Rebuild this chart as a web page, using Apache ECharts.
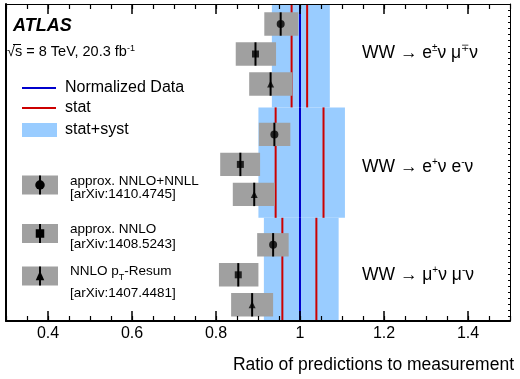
<!DOCTYPE html>
<html><head><meta charset="utf-8">
<script src="https://cdn.jsdelivr.net/npm/echarts@6/dist/echarts.min.js"></script>
<style>html,body{margin:0;padding:0;background:#fff}#c{width:520px;height:379px}</style>
</head><body><div id="c"></div>
<script>
// ---- data ----
const channels = ['WW → e{sup|±}ν μ{sup|∓}ν', 'WW → e{sup|+}ν e{sup|-}ν', 'WW → μ{sup|+}ν μ{sup|-}ν'];
const predictionNames = ['approx. NNLO+NNLL', 'approx. NNLO', 'NNLO p{sub|T}-Resum'];
const predictionRefs = ['[arXiv:1410.4745]', '[arXiv:1408.5243]', '[arXiv:1407.4481]'];
// per prediction, per channel (eμ, ee, μμ)
const nnllCentral = [0.954, 0.939, 0.936];
const nnllLow     = [0.915, 0.902, 0.898];
const nnllHigh    = [0.996, 0.977, 0.973];
const nnloCentral = [0.894, 0.858, 0.853];
const nnloLow     = [0.847, 0.810, 0.807];
const nnloHigh    = [0.943, 0.905, 0.901];
const ptrCentral  = [0.930, 0.891, 0.886];
const ptrLow      = [0.879, 0.840, 0.836];
const ptrHigh     = [0.982, 0.940, 0.936];
const dataNorm  = [1.0, 1.0, 1.0];
const statLow   = [0.980, 0.942, 0.958];
const statHigh  = [1.017, 1.056, 1.039];
const totalLow  = [0.933, 0.901, 0.914];
const totalHigh = [1.071, 1.107, 1.092];
const majorTicks = [0.4, 0.6, 0.8, 1.0, 1.2, 1.4];

// ---- layout helpers ----
const Y_MAX = 10.567;
const rowY = (c, k) => 0.667 + c * 3.68 + k * 1.0;
const blockTop = c => c === 0 ? 0 : rowY(c, 0) - 0.9;
const blockBot = c => c === 2 ? Y_MAX : rowY(c + 1, 0) - 0.9;
const BOX_H = 0.78;
const GREY = '#a0a0a0', BAND = '#99ccff', RED = '#cc0000', BLUE = '#0000cc';
const FONT = 'Liberation Sans, Arial, sans-serif';

const preds = [
  {c: nnllCentral, l: nnllLow, h: nnllHigh, sym: 'circle', size: 8},
  {c: nnloCentral, l: nnloLow, h: nnloHigh, sym: 'rect', size: 7},
  {c: ptrCentral,  l: ptrLow,  h: ptrHigh,  sym: 'triangle', size: 7}
];

const boxData = [];
preds.forEach((p, k) => channels.forEach((_, c) => boxData.push([p.l[c], p.h[c], p.c[c], c, k])));

const series = [
  { type: 'custom', z: 1, xAxisIndex: 0, yAxisIndex: 0, encode: {x: [0, 1], y: 2},
    data: channels.map((_, c) => [totalLow[c], totalHigh[c], c]),
    renderItem: (params, api) => {
      const c = api.value(2);
      const p1 = api.coord([api.value(0), blockTop(c)]);
      const p2 = api.coord([api.value(1), blockBot(c)]);
      return {type: 'rect', shape: {x: p1[0], y: p1[1], width: p2[0] - p1[0], height: p2[1] - p1[1]}, style: {fill: BAND}};
    }
  },
  { type: 'custom', z: 2, xAxisIndex: 0, yAxisIndex: 0, encode: {x: [0, 1], y: 2},
    data: channels.map((_, c) => [statLow[c], statHigh[c], c]),
    renderItem: (params, api) => {
      const c = api.value(2);
      const ch = [];
      [api.value(0), api.value(1)].forEach(v => {
        const a = api.coord([v, blockTop(c)]), b = api.coord([v, blockBot(c)]);
        ch.push({type: 'line', shape: {x1: a[0], y1: a[1], x2: b[0], y2: b[1]}, style: {stroke: RED, lineWidth: 2}});
      });
      return {type: 'group', children: ch};
    }
  },
  { type: 'custom', z: 2, xAxisIndex: 0, yAxisIndex: 0, encode: {x: 0, y: 1},
    data: channels.map((_, c) => [dataNorm[c], c]),
    renderItem: (params, api) => {
      const c = api.value(1);
      const a = api.coord([api.value(0), blockTop(c)]), b = api.coord([api.value(0), blockBot(c)]);
      return {type: 'line', shape: {x1: a[0], y1: a[1], x2: b[0], y2: b[1]}, style: {stroke: BLUE, lineWidth: 2}};
    }
  },
  { type: 'custom', z: 3, xAxisIndex: 0, yAxisIndex: 0, encode: {x: [0, 1, 2], y: 3},
    data: boxData,
    renderItem: (params, api) => {
      const c = api.value(3), k = api.value(4);
      const y = rowY(c, k);
      const p1 = api.coord([api.value(0), y - BOX_H / 2]);
      const p2 = api.coord([api.value(1), y + BOX_H / 2]);
      const m = api.coord([api.value(2), y]);
      return {type: 'group', children: [
        {type: 'rect', shape: {x: p1[0], y: p1[1], width: p2[0] - p1[0], height: p2[1] - p1[1]}, style: {fill: GREY}},
        {type: 'line', shape: {x1: m[0], y1: p1[1], x2: m[0], y2: p2[1]}, style: {stroke: '#000', lineWidth: 2}}
      ]};
    }
  }
];
preds.forEach((p, k) => series.push({
  type: 'scatter', z: 4, xAxisIndex: 0, yAxisIndex: 0, symbol: p.sym, symbolSize: p.size,
  itemStyle: {color: '#000'}, silent: true,
  data: channels.map((_, c) => [p.c[c], rowY(c, k)])
}));

// ---- graphics (annotations & legend) ----
const graphic = [];
const txt = (x, y, text, size, extra) => graphic.push({type: 'text', x, y, z: 100,
  style: Object.assign({text, fontSize: size, fontFamily: FONT, fill: '#000', verticalAlign: 'middle', align: 'left'}, extra || {})});
txt(13, 26, 'ATLAS', 18, {fontWeight: 'bold', fontStyle: 'italic'});
txt(7, 52, '√s = 8 TeV, 20.3 fb{sup|-1}', 14.5, {rich: {sup: {fontSize: 9, verticalAlign: 'top', lineHeight: 16, fontFamily: FONT}}, lineHeight: 16});
graphic.push({type: 'line', shape: {x1: 13, y1: 44.5, x2: 21, y2: 44.5}, style: {stroke: '#000', lineWidth: 1}});
// legend lines
graphic.push({type: 'line', shape: {x1: 22, y1: 88, x2: 56, y2: 88}, style: {stroke: BLUE, lineWidth: 2}});
txt(65, 88, 'Normalized Data', 16);
graphic.push({type: 'line', shape: {x1: 22, y1: 108, x2: 56, y2: 108}, style: {stroke: RED, lineWidth: 2}});
txt(65, 108, 'stat', 16);
graphic.push({type: 'rect', shape: {x: 22, y: 123, width: 35, height: 14}, style: {fill: BAND}});
txt(65, 130, 'stat+syst', 16);
// prediction legend
const legY = [185, 233.5, 276];
const legLine1 = [181, 229, 271];
const legLine2 = [194, 244, 293];
preds.forEach((p, k) => {
  graphic.push({type: 'rect', shape: {x: 22, y: legY[k] - 9.5, width: 36, height: 19}, style: {fill: GREY}});
  graphic.push({type: 'line', shape: {x1: 40, y1: legY[k] - 9.5, x2: 40, y2: legY[k] + 9.5}, style: {stroke: '#000', lineWidth: 2}});
  const s = p.size + 1.5;
  let shape;
  if (p.sym === 'circle') shape = {type: 'circle', shape: {cx: 40, cy: legY[k], r: s / 2}};
  else if (p.sym === 'rect') shape = {type: 'rect', shape: {x: 40 - s / 2, y: legY[k] - s / 2, width: s, height: s}};
  else shape = {type: 'polygon', shape: {points: [[40, legY[k] - s / 2 - 1], [40 - s / 2, legY[k] + s / 2], [40 + s / 2, legY[k] + s / 2]]}};
  shape.style = {fill: '#000'};
  graphic.push(shape);
  txt(70, legLine1[k], predictionNames[k], 13.5, {rich: {sub: {fontSize: 9, verticalAlign: 'bottom', lineHeight: 22, fontFamily: FONT}}});
  txt(70, legLine2[k], predictionRefs[k], 13.5);
});
// channel labels
const chY = [53, 167, 275];
channels.forEach((t, c) => txt(362, chY[c], t, 17.5, {rich: {sup: {fontSize: 10, verticalAlign: 'top', lineHeight: 20, fontFamily: FONT}}, lineHeight: 20}));
// axis title
txt(514, 365, 'Ratio of predictions to measurement', 17.5, {align: 'right'});

const xBase = {type: 'value', min: 0.3, max: 1.5, splitLine: {show: false}, gridIndex: 0, z: 50};
const option = {
  animation: false,
  grid: {left: 6, right: 10, top: 4, bottom: 58, containLabel: false},
  xAxis: [
    Object.assign({}, xBase, {position: 'bottom', interval: 0.05,
      axisLine: {show: true, onZero: false, lineStyle: {color: '#000', width: 2}},
      axisTick: {show: true, inside: true, length: 5, lineStyle: {color: '#000', width: 1.2}},
      axisLabel: {show: false}}),
    Object.assign({}, xBase, {position: 'bottom',
      axisLine: {show: false, onZero: false},
      axisTick: {show: true, inside: true, length: 10, customValues: majorTicks, lineStyle: {color: '#000', width: 1.5}},
      axisLabel: {show: true, customValues: majorTicks, margin: 5, fontSize: 16, fontFamily: FONT, color: '#000',
        formatter: v => String(+(+v).toFixed(2))}}),
    Object.assign({}, xBase, {position: 'top', interval: 0.05,
      axisLine: {show: true, onZero: false, lineStyle: {color: '#000', width: 1}},
      axisTick: {show: true, inside: true, length: 5, lineStyle: {color: '#000', width: 1.2}},
      axisLabel: {show: false}}),
    Object.assign({}, xBase, {position: 'top',
      axisLine: {show: false, onZero: false},
      axisTick: {show: true, inside: true, length: 10, customValues: majorTicks, lineStyle: {color: '#000', width: 1.5}},
      axisLabel: {show: false}})
  ],
  yAxis: [
    {type: 'value', min: 0, max: Y_MAX, inverse: true, position: 'left', splitLine: {show: false}, z: 50,
      axisLine: {show: true, onZero: false, lineStyle: {color: '#000', width: 2}}, axisTick: {show: false}, axisLabel: {show: false}},
    {type: 'value', min: 0, max: Y_MAX, inverse: true, position: 'right', interval: 0.2, splitLine: {show: false}, z: 50,
      axisLine: {show: true, onZero: false, lineStyle: {color: '#000', width: 1}},
      axisTick: {show: true, inside: true, length: 2, lineStyle: {color: '#000', width: 1}}, axisLabel: {show: false}}
  ],
  graphic,
  series
};
const chart = echarts.init(document.getElementById('c'), null, {renderer: 'canvas'});
chart.setOption(option);
</script></body></html>
